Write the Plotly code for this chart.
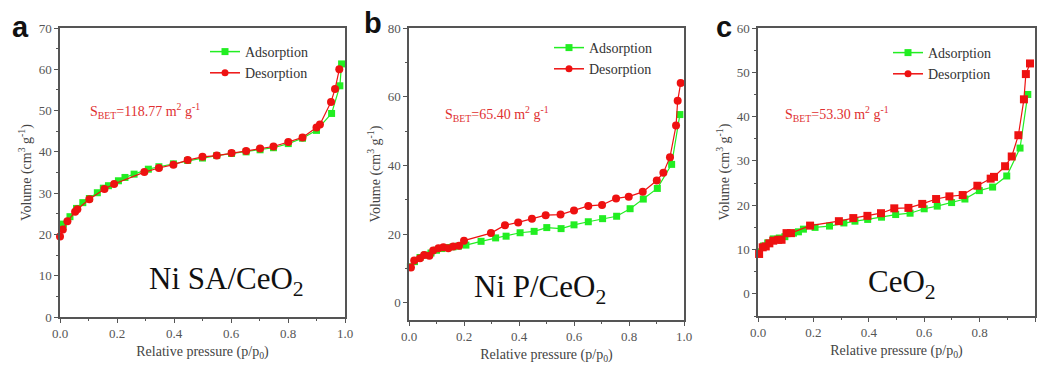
import plotly.graph_objects as go

# ---------------- data ----------------
a_ads_x = [0.012, 0.035, 0.058, 0.08, 0.103, 0.131, 0.152, 0.17, 0.205, 0.228, 0.26, 0.31, 0.347, 0.398,
           0.448, 0.5, 0.55, 0.602, 0.653, 0.702, 0.749, 0.801, 0.851, 0.9, 0.953, 0.982, 0.988]
a_ads_y = [22.5, 24.3, 26.3, 27.7, 28.7, 30.1, 31.2, 31.8, 33.0, 33.8, 34.6, 35.8, 36.4, 37.1,
           37.9, 38.5, 39.1, 39.6, 40.0, 40.5, 41.0, 42.0, 43.3, 45.2, 49.3, 56.0, 61.3]
a_des_x = [0.0, 0.01, 0.026, 0.053, 0.061, 0.103, 0.156, 0.19, 0.296, 0.347, 0.398, 0.448, 0.5, 0.55,
           0.602, 0.653, 0.702, 0.749, 0.801, 0.851, 0.9, 0.912, 0.951, 0.965, 0.98]
a_des_y = [19.5, 21.2, 23.2, 25.5, 26.1, 28.5, 31.0, 32.2, 35.1, 36.1, 36.9, 38.0, 38.8, 39.1,
           39.7, 40.2, 40.8, 41.3, 42.4, 43.5, 45.9, 46.6, 52.1, 55.2, 60.0]

b_ads_x = [0.005, 0.02, 0.04, 0.06, 0.08, 0.1, 0.12, 0.14, 0.16, 0.18, 0.207, 0.262, 0.315, 0.353,
           0.404, 0.455, 0.501, 0.553, 0.6, 0.652, 0.704, 0.755, 0.804, 0.852, 0.903, 0.955, 0.985]
b_ads_y = [10.5, 12.0, 13.2, 13.9, 14.5, 15.3, 15.8, 16.1, 16.3, 16.5, 16.8, 17.9, 18.9, 19.4,
           20.4, 20.8, 21.9, 21.6, 22.7, 23.6, 24.5, 25.2, 27.4, 30.2, 33.3, 40.3, 54.8]
b_des_x = [0.007, 0.019, 0.04, 0.055, 0.074, 0.088, 0.107, 0.125, 0.143, 0.161, 0.182, 0.2, 0.298,
           0.349, 0.397, 0.447, 0.497, 0.551, 0.6, 0.652, 0.702, 0.753, 0.799, 0.85, 0.901, 0.925,
           0.949, 0.971, 0.977, 0.988]
b_des_y = [10.3, 12.3, 13.0, 13.9, 13.7, 15.2, 15.9, 16.2, 15.9, 16.4, 16.6, 18.1, 20.3,
           22.6, 23.4, 24.5, 25.5, 25.7, 26.9, 28.2, 28.5, 30.4, 30.9, 32.3, 35.6, 37.9,
           42.4, 51.6, 58.8, 64.0]

c_ads_x = [0.005, 0.02, 0.035, 0.055, 0.077, 0.097, 0.128, 0.146, 0.164, 0.206, 0.258, 0.31, 0.35,
           0.396, 0.446, 0.497, 0.549, 0.6, 0.647, 0.699, 0.747, 0.799, 0.847, 0.898, 0.946, 0.974]
c_ads_y = [9.5, 10.8, 11.5, 12.4, 12.6, 12.9, 13.7, 14.0, 14.6, 15.0, 15.3, 16.0, 16.4,
           16.8, 17.3, 17.9, 18.2, 19.2, 19.8, 20.6, 21.4, 23.3, 24.1, 26.6, 32.9, 45.0]
c_des_x = [0.004, 0.017, 0.028, 0.041, 0.055, 0.073, 0.085, 0.103, 0.119, 0.188, 0.292, 0.344, 0.395,
           0.444, 0.492, 0.543, 0.593, 0.643, 0.691, 0.739, 0.792, 0.84, 0.852, 0.892, 0.916, 0.94,
           0.96, 0.967, 0.982]
c_des_y = [9.0, 10.5, 10.7, 11.4, 12.0, 12.2, 12.2, 13.7, 13.7, 15.4, 16.4, 17.1, 17.6,
           18.2, 19.3, 19.4, 20.3, 21.4, 22.0, 22.3, 24.4, 26.0, 26.4, 28.8, 31.0, 35.8,
           43.9, 49.6, 52.0]

series_names = ["Adsorption", "Desorption"]
panel_letters = ["a", "b", "c"]
sample_labels = ["Ni SA/CeO<sub>2</sub>", "Ni P/CeO<sub>2</sub>", "CeO<sub>2</sub>"]
sbet_labels = ["S<sub>BET</sub>=118.77 m<sup>2</sup> g<sup>-1</sup>",
               "S<sub>BET</sub>=65.40 m<sup>2</sup> g<sup>-1</sup>",
               "S<sub>BET</sub>=53.30 m<sup>2</sup> g<sup>-1</sup>"]
x_title = "Relative pressure (p/p<sub>0</sub>)"
y_title = "Volume (cm<sup>3</sup> g<sup>-1</sup>)"

# ---------------- styling ----------------
W, H = 1043, 365
GREEN = "#22ee22"
RED = "#ee1111"
SERIF = "Liberation Serif"
AXC = "#555555"
TXT = "#555555"

panels = [
    dict(ax=(a_ads_x, a_ads_y), de=(a_des_x, a_des_y), des_sym="circle",
         xpx=(60, 345), ypx=(28, 317), yr=(0, 70), dt=10, mdt=5,
         sbet=(0.098, 49.8), lab=(0.306, 8.8), leg=(205, 36)),
    dict(ax=(b_ads_x, b_ads_y), de=(b_des_x, b_des_y), des_sym="circle",
         xpx=(409, 684), ypx=(28, 320), yr=(-5, 80), dt=20, mdt=10,
         sbet=(0.124, 55.0), lab=(0.228, 4.0), leg=(549, 32)),
    dict(ax=(c_ads_x, c_ads_y), de=(c_des_x, c_des_y), des_sym="square",
         xpx=(758, 1035), ypx=(28, 316), yr=(-5, 60), dt=10, mdt=5,
         sbet=(0.09, 40.6), lab=(0.39, 2.3), leg=(888, 37)),
]

fig = go.Figure()
annotations = []
layout = {}
for i, p in enumerate(panels):
    n = "" if i == 0 else str(i + 1)
    xa, ya = "x" + n, "y" + n
    leg = "legend" + n
    fig.add_trace(go.Scatter(x=p["ax"][0], y=p["ax"][1], mode="lines+markers", xaxis=xa, yaxis=ya,
                             line=dict(color=GREEN, width=1.2),
                             marker=dict(symbol="square", size=7, color=GREEN),
                             cliponaxis=False, showlegend=False))
    fig.add_trace(go.Scatter(x=p["de"][0], y=p["de"][1], mode="lines+markers", xaxis=xa, yaxis=ya,
                             line=dict(color=RED, width=1.2),
                             marker=dict(symbol=p["des_sym"], size=8, color=RED),
                             cliponaxis=False, showlegend=False))
    for nm, col, sym in [(series_names[0], GREEN, "square"), (series_names[1], RED, "circle")]:
        fig.add_trace(go.Scatter(x=[None], y=[None], mode="lines+markers", xaxis=xa, yaxis=ya,
                                 name=nm, legend=leg, line=dict(color=col, width=1.5),
                                 marker=dict(symbol=sym, size=7, color=col)))
    x0, x1 = p["xpx"]
    yt, yb = p["ypx"]
    layout["xaxis" + n] = dict(
        domain=[x0 / W, x1 / W], anchor=ya, range=[0, 1.0], dtick=0.2, tick0=0, automargin=False,
        tickformat=".1f", ticks="outside", ticklen=4, tickcolor=AXC, tickwidth=1,
        minor=dict(ticks="outside", ticklen=2, dtick=0.1, tickcolor=AXC),
        showline=True, linecolor=AXC, linewidth=1.5, mirror=True, showgrid=False, zeroline=False,
        tickfont=dict(family=SERIF, size=13, color=TXT),
        title=dict(text=x_title, font=dict(family=SERIF, size=14, color="#444444"), standoff=6))
    layout["yaxis" + n] = dict(
        domain=[1 - yb / H, 1 - yt / H], anchor=xa, range=list(p["yr"]), dtick=p["dt"], tick0=0,
        automargin=False, ticks="outside", ticklen=4, tickcolor=AXC, tickwidth=1,
        minor=dict(ticks="outside", ticklen=2, dtick=p["mdt"], tickcolor=AXC),
        showline=True, linecolor=AXC, linewidth=1.5, mirror=True, showgrid=False, zeroline=False,
        tickfont=dict(family=SERIF, size=13, color=TXT),
        title=dict(text=y_title, font=dict(family=SERIF, size=14, color="#444444"), standoff=4))
    lx, ly = p["leg"]
    layout[leg] = dict(x=lx / W, y=1 - ly / H, xanchor="left", yanchor="top",
                       bgcolor="rgba(0,0,0,0)", font=dict(family=SERIF, size=14, color="#333333"),
                       tracegroupgap=0, itemwidth=30)
    annotations.append(dict(text=sbet_labels[i], xref=xa, yref=ya,
                            x=p["sbet"][0], y=p["sbet"][1], xanchor="left", yanchor="middle",
                            showarrow=False, font=dict(family=SERIF, size=14, color="#e03030")))
    annotations.append(dict(text=sample_labels[i], xref=xa, yref=ya,
                            x=p["lab"][0], y=p["lab"][1], xanchor="left", yanchor="middle",
                            showarrow=False, font=dict(family=SERIF, size=31, color="#111111")))

letter_pos = [(20, 27), (373, 23), (724, 27)]
for L, (px, py) in zip(panel_letters, letter_pos):
    annotations.append(dict(text="<b>%s</b>" % L, xref="paper", yref="paper",
                            x=px / W, y=1 - py / H, xanchor="center", yanchor="middle",
                            showarrow=False, font=dict(family="Liberation Sans",
                                                       size=29, color="#111111")))

fig.update_layout(width=W, height=H, margin=dict(l=0, r=0, t=0, b=0),
                  paper_bgcolor="white", plot_bgcolor="white",
                  font=dict(family=SERIF, size=13, color=TXT),
                  annotations=annotations, **layout)
fig.write_html("out.html")
